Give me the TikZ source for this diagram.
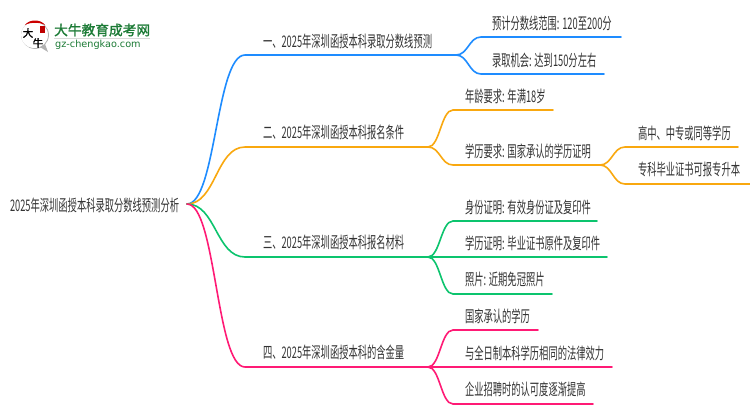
\documentclass[tikz,border=0pt]{standalone}
\usepackage{fontspec}
\setmainfont{Noto Sans CJK SC}
\newfontfamily\cjk[FakeStretch=0.58]{Noto Sans CJK SC}
\newfontfamily\logof[FakeBold=1.5]{Noto Sans CJK SC}
\newfontfamily\latinlogo{DejaVu Sans}
\definecolor{cblue}{HTML}{1E8CFF}
\definecolor{corange}{HTML}{F9A80F}
\definecolor{cgreen}{HTML}{0CC46E}
\definecolor{cpink}{HTML}{FF1A75}
\definecolor{ctext}{HTML}{333333}
\definecolor{clogo}{HTML}{1B7A35}
\tikzset{
  lbl/.style={anchor=west,inner sep=0pt,outer sep=0pt,text=ctext,font=\fontsize{16}{16}\cjk},
  link/.style={line width=1.6pt,line cap=round},
  bluelink/.style={link,draw=cblue},
  orangelink/.style={link,draw=corange},
  greenlink/.style={link,draw=cgreen},
  pinklink/.style={link,draw=cpink},
  tree/.style={to path={.. controls ([xshift=#1]\tikztostart) and ([xshift=-#1]\tikztotarget) .. (\tikztotarget)}},
  tree/.default=12pt,
  wide/.style={tree=29pt}
}
\begin{document}
\begin{tikzpicture}[x=1pt,y=-1pt]
\useasboundingbox (0,0) rectangle (750,410);
\fill[white] (0,0) rectangle (750,410);
% logo
\fill[white,draw=black!30,line width=.8pt] (35,35) circle (13.5);
\fill[black!30] (40,47) -- (48,52) -- (45,44) -- cycle;
\fill[white] (34,35) circle (13);
\fill[red!80!black] (25,25) .. controls (29,19) and (41,19) .. (45,25) .. controls (40,22) and (30,22) .. (25,25) -- cycle;
\fill[red!75!black] (39.500,26) rectangle (45,33);
\node[inner sep=0pt,font=\fontsize{10.5}{11}\logof] (logoa) at (28,33) {大};
\node[inner sep=0pt,font=\fontsize{10.5}{11}\logof] (logob) at (38,43) {牛};
\node[anchor=west,inner sep=0pt,text=clogo,font=\fontsize{13.7}{14}\logof] (logot) at (54,30) {大牛教育成考网};
\fill[black!15] (54,38) rectangle (150,39);
\node[anchor=west,inner sep=0pt,text=clogo,font=\fontsize{9.7}{10}\latinlogo] (logou) at (55,45) {gz-chengkao.com};
% coordinates
\coordinate (r) at (187,204);
\coordinate (a0) at (245,55); \coordinate (a1) at (456,55);
\coordinate (b0) at (245,147); \coordinate (b1) at (428,147);
\coordinate (c0) at (245,257); \coordinate (c1) at (428,257);
\coordinate (d0) at (245,367); \coordinate (d1) at (428,367);
\coordinate (a1s) at (481,37); \coordinate (a1e) at (621,37);
\coordinate (a2s) at (481,74); \coordinate (a2e) at (604,74);
\coordinate (b1s) at (453,110); \coordinate (b1e) at (553,110);
\coordinate (b2s) at (453,165); \coordinate (b2e) at (600,165);
\coordinate (b3s) at (625,147); \coordinate (b3e) at (738,147);
\coordinate (b4s) at (625,184); \coordinate (b4e) at (750,184);
\coordinate (c1s) at (453,221); \coordinate (c1e) at (597,221);
\coordinate (c2s) at (453,257); \coordinate (c2e) at (607,257);
\coordinate (c3s) at (453,294); \coordinate (c3e) at (552,294);
\coordinate (d1s) at (453,330); \coordinate (d1e) at (538,330);
\coordinate (d2s) at (453,367); \coordinate (d2e) at (612,367);
\coordinate (d3s) at (453,404); \coordinate (d3e) at (593,404);
% connectors
\draw[bluelink] (r) to[wide] (a0) -- (a1);
\draw[bluelink] (a1) to[tree] (a1s) -- (a1e);
\draw[bluelink] (a1) to[tree] (a2s) -- (a2e);
\draw[orangelink] (r) to[wide] (b0) -- (b1);
\draw[orangelink] (b1) to[tree] (b1s) -- (b1e);
\draw[orangelink] (b1) to[tree] (b2s) -- (b2e);
\draw[orangelink] (b2e) to[tree] (b3s) -- (b3e);
\draw[orangelink] (b2e) to[tree] (b4s) -- (b4e);
\draw[greenlink] (r) to[wide] (c0) -- (c1);
\draw[greenlink] (c1) to[tree] (c1s) -- (c1e);
\draw[greenlink] (c1) to[tree] (c2s) -- (c2e);
\draw[greenlink] (c1) to[tree] (c3s) -- (c3e);
\draw[pinklink] (r) to[wide] (d0) -- (d1);
\draw[pinklink] (d1) to[tree] (d1s) -- (d1e);
\draw[pinklink] (d1) to[tree] (d2s) -- (d2e);
\draw[pinklink] (d1) to[tree] (d3s) -- (d3e);
% labels
\node[lbl] (root) at (10,205) {2025年深圳函授本科录取分数线预测分析};
\node[lbl] (ta) at (263,41) {一、2025年深圳函授本科录取分数线预测};
\node[lbl] (tb) at (263,132) {二、2025年深圳函授本科报名条件};
\node[lbl] (tc) at (263,242) {三、2025年深圳函授本科报名材料};
\node[lbl] (td) at (263,352) {四、2025年深圳函授本科的含金量};
\node[lbl] (ta1) at (492,23) {预计分数线范围: 120至200分};
\node[lbl] (ta2) at (492,60) {录取机会: 达到150分左右};
\node[lbl] (tb1) at (465,96) {年龄要求: 年满18岁};
\node[lbl] (tb2) at (465,151) {学历要求: 国家承认的学历证明};
\node[lbl] (tb3) at (638,133) {高中、中专或同等学历};
\node[lbl] (tb4) at (638,169) {专科毕业证书可报专升本};
\node[lbl] (tc1) at (465,207) {身份证明: 有效身份证及复印件};
\node[lbl] (tc2) at (465,243) {学历证明: 毕业证书原件及复印件};
\node[lbl] (tc3) at (465,279) {照片: 近期免冠照片};
\node[lbl] (td1) at (465,316) {国家承认的学历};
\node[lbl] (td2) at (465,353) {与全日制本科学历相同的法律效力};
\node[lbl] (td3) at (465,389) {企业招聘时的认可度逐渐提高};
\end{tikzpicture}
\end{document}
